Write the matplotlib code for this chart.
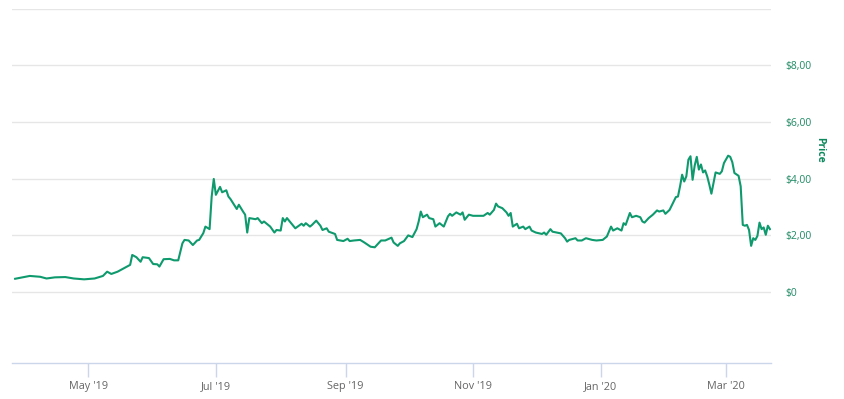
import matplotlib
matplotlib.use("Agg")
import matplotlib.pyplot as plt
import pandas as pd

dates = [
    "2019-03-27", "2019-04-03", "2019-04-08", "2019-04-11", "2019-04-15", "2019-04-20",
    "2019-04-24", "2019-04-29", "2019-05-04", "2019-05-08", "2019-05-10", "2019-05-12",
    "2019-05-15", "2019-05-18", "2019-05-21", "2019-05-22", "2019-05-24", "2019-05-26",
    "2019-05-27", "2019-05-30", "2019-06-01", "2019-06-03", "2019-06-04", "2019-06-06",
    "2019-06-09", "2019-06-11", "2019-06-13", "2019-06-15", "2019-06-16", "2019-06-18",
    "2019-06-20", "2019-06-22", "2019-06-23", "2019-06-25", "2019-06-26", "2019-06-28",
    "2019-06-29", "2019-06-30", "2019-07-01", "2019-07-03", "2019-07-04", "2019-07-06",
    "2019-07-07", "2019-07-08", "2019-07-11", "2019-07-12", "2019-07-14", "2019-07-15",
    "2019-07-16", "2019-07-17", "2019-07-20", "2019-07-21", "2019-07-23", "2019-07-24",
    "2019-07-27", "2019-07-29", "2019-07-30", "2019-08-01", "2019-08-02", "2019-08-03",
    "2019-08-04", "2019-08-06", "2019-08-08", "2019-08-11", "2019-08-12", "2019-08-13",
    "2019-08-15", "2019-08-16", "2019-08-18", "2019-08-20", "2019-08-21", "2019-08-23",
    "2019-08-24", "2019-08-27", "2019-08-28", "2019-08-31", "2019-09-02", "2019-09-03",
    "2019-09-05", "2019-09-08", "2019-09-10", "2019-09-13", "2019-09-15", "2019-09-18",
    "2019-09-20", "2019-09-23", "2019-09-24", "2019-09-26", "2019-09-27", "2019-09-29",
    "2019-10-01", "2019-10-03", "2019-10-05", "2019-10-06", "2019-10-07", "2019-10-08",
    "2019-10-10", "2019-10-11", "2019-10-13", "2019-10-14", "2019-10-16", "2019-10-17",
    "2019-10-18", "2019-10-20", "2019-10-21", "2019-10-22", "2019-10-24", "2019-10-26",
    "2019-10-27", "2019-10-28", "2019-10-30", "2019-11-01", "2019-11-03", "2019-11-06",
    "2019-11-08", "2019-11-09", "2019-11-11", "2019-11-12", "2019-11-13", "2019-11-15",
    "2019-11-17", "2019-11-18", "2019-11-19", "2019-11-20", "2019-11-22", "2019-11-23",
    "2019-11-25", "2019-11-26", "2019-11-28", "2019-11-29", "2019-12-01", "2019-12-04",
    "2019-12-05", "2019-12-06", "2019-12-08", "2019-12-09", "2019-12-11", "2019-12-13",
    "2019-12-15", "2019-12-16", "2019-12-17", "2019-12-20", "2019-12-21", "2019-12-23",
    "2019-12-25", "2019-12-28", "2019-12-30", "2020-01-02", "2020-01-04", "2020-01-06",
    "2020-01-07", "2020-01-09", "2020-01-11", "2020-01-12", "2020-01-13", "2020-01-15",
    "2020-01-16", "2020-01-18", "2020-01-20", "2020-01-21", "2020-01-22", "2020-01-24",
    "2020-01-26", "2020-01-28", "2020-01-29", "2020-01-31", "2020-02-01", "2020-02-03",
    "2020-02-05", "2020-02-06", "2020-02-07", "2020-02-08", "2020-02-09", "2020-02-10",
    "2020-02-11", "2020-02-12", "2020-02-13", "2020-02-14", "2020-02-15", "2020-02-16",
    "2020-02-17", "2020-02-18", "2020-02-19", "2020-02-20", "2020-02-21", "2020-02-22",
    "2020-02-23", "2020-02-24", "2020-02-25", "2020-02-27", "2020-02-28", "2020-02-29",
    "2020-03-02", "2020-03-03", "2020-03-04", "2020-03-05", "2020-03-07", "2020-03-08",
    "2020-03-09", "2020-03-10", "2020-03-11", "2020-03-12", "2020-03-13", "2020-03-14",
    "2020-03-15", "2020-03-16", "2020-03-17", "2020-03-18", "2020-03-19", "2020-03-20",
    "2020-03-21", "2020-03-22",
]

prices = [
    0.47, 0.57, 0.54, 0.48, 0.52, 0.53,
    0.48, 0.45, 0.48, 0.57, 0.72, 0.64,
    0.72, 0.84, 0.96, 1.31, 1.23, 1.07,
    1.23, 1.20, 0.99, 0.98, 0.90, 1.16,
    1.17, 1.12, 1.12, 1.72, 1.84, 1.82,
    1.66, 1.82, 1.84, 2.08, 2.31, 2.22,
    3.37, 3.99, 3.43, 3.71, 3.52, 3.59,
    3.37, 3.28, 2.93, 3.08, 2.84, 2.73,
    2.10, 2.61, 2.57, 2.61, 2.43, 2.49,
    2.31, 2.10, 2.19, 2.17, 2.61, 2.49,
    2.61, 2.43, 2.25, 2.41, 2.34, 2.43,
    2.31, 2.37, 2.52, 2.34, 2.19, 2.25,
    2.13, 2.05, 1.84, 1.80, 1.88, 1.80,
    1.82, 1.84, 1.75, 1.60, 1.58, 1.82,
    1.82, 1.92, 1.75, 1.63, 1.72, 1.80,
    2.00, 1.94, 2.22, 2.49, 2.84, 2.64,
    2.73, 2.61, 2.57, 2.31, 2.43, 2.37,
    2.31, 2.67, 2.76, 2.69, 2.81, 2.73,
    2.81, 2.55, 2.73, 2.69, 2.69, 2.69,
    2.79, 2.73, 2.90, 3.12, 3.02, 2.96,
    2.81, 2.69, 2.79, 2.31, 2.41, 2.25,
    2.31, 2.22, 2.31, 2.17, 2.10, 2.05,
    2.10, 2.02, 2.22, 2.13, 2.10, 2.07,
    1.90, 1.78, 1.84, 1.90, 1.82, 1.82,
    1.90, 1.84, 1.82, 1.84, 1.96, 2.31,
    2.17, 2.25, 2.17, 2.43, 2.37, 2.79,
    2.64, 2.69, 2.64, 2.49, 2.45, 2.61,
    2.73, 2.88, 2.84, 2.88, 2.76, 2.90,
    3.20, 3.35, 3.37, 3.73, 4.14, 3.90,
    4.08, 4.67, 4.79, 3.96, 4.46, 4.77,
    4.32, 4.50, 4.22, 4.29, 4.08, 3.79,
    3.47, 3.85, 4.22, 4.17, 4.26, 4.55,
    4.81, 4.77, 4.58, 4.20, 4.10, 3.73,
    2.37, 2.34, 2.37, 2.19, 1.63, 1.90,
    1.84, 1.98, 2.45, 2.22, 2.28, 2.02,
    2.34, 2.22,
]

tick_dates = ["2019-05-01", "2019-07-01", "2019-09-01", "2019-11-01", "2020-01-01", "2020-03-01"]
tick_labels = ["May '19", "Jul '19", "Sep '19", "Nov '19", "Jan '20", "Mar '20"]
y_ticks = [0, 2, 4, 6, 8, 10]
y_labels = ["$0", "$2,00", "$4,00", "$6,00", "$8,00", ""]

LINE = "#0f9a6e"
LABEL_GREEN = "#1f8a64"

plt.rcParams["font.family"] = ["Open Sans", "DejaVu Sans"]

fig = plt.figure(figsize=(8.44, 3.99), dpi=100)
ax = fig.add_axes([12 / 844, 36 / 399, 759 / 844, 354.5 / 399])

x = pd.to_datetime(dates)
ax.plot(x, prices, color=LINE, lw=1.5, solid_joinstyle="round", zorder=3)

ax.set_ylim(-2.5, 10)
ax.set_xlim(pd.Timestamp("2019-03-25 12:00"), pd.Timestamp("2020-03-22 12:00"))

ax.set_yticks(y_ticks)
ax.set_yticklabels(y_labels)
ax.yaxis.tick_right()
ax.tick_params(axis="y", length=0, pad=10, labelsize=7.5, labelcolor=LABEL_GREEN)
for lbl in ax.get_yticklabels():
    lbl.set_horizontalalignment("left")
ax.grid(axis="y", color="#e6e6e6", lw=1)
ax.set_axisbelow(True)

ax.set_xticks(pd.to_datetime(tick_dates))
ax.set_xticklabels(tick_labels)
ax.tick_params(axis="x", length=10, width=1, color="#ccd6eb", labelsize=7.8,
               labelcolor="#666666", pad=3)

for s in ["top", "left", "right"]:
    ax.spines[s].set_visible(False)
ax.spines["bottom"].set_color("#ccd6eb")
ax.spines["bottom"].set_linewidth(1)

ax.yaxis.set_label_position("right")
ax.set_ylabel("Price", rotation=270, color="#0d8a5e", fontsize=7.5,
              fontweight="bold")
ax.yaxis.set_label_coords(1.071, 0.60)

fig.savefig("out.png", dpi=100, facecolor="white")
